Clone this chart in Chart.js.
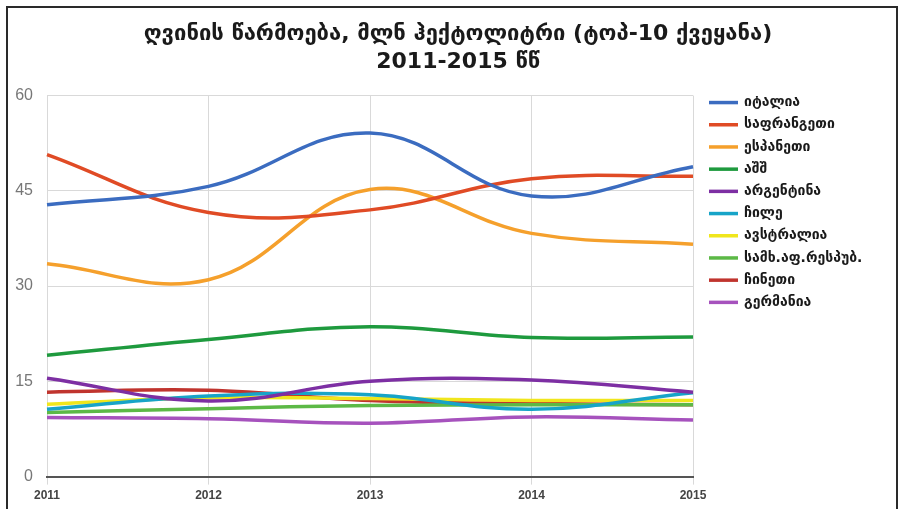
<!DOCTYPE html>
<html>
<head>
<meta charset="utf-8">
<script src="https://cdn.jsdelivr.net/npm/chart.js@4.4.1/dist/chart.umd.min.js"></script>
<style>
  html, body { margin: 0; padding: 0; background: #fff; overflow: hidden; }
  #frame {
    position: absolute; left: 6px; top: 6px; width: 892px; height: 540px;
    border: 2px solid #2a2a2a; box-sizing: border-box;
  }
  #wrap { position: absolute; left: 0; top: 0; width: 903px; height: 509px; }
</style>
</head>
<body>
<div id="frame"></div>
<div id="wrap"><canvas id="myChart" width="903" height="509"></canvas></div>
<script>
const years = ['2011', '2012', '2013', '2014', '2015'];
const countries = ['იტალია', 'საფრანგეთი', 'ესპანეთი', 'აშშ', 'არგენტინა', 'ჩილე', 'ავსტრალია', 'სამხ.აფ.რესპუბ.', 'ჩინეთი', 'გერმანია'];
const colors = ['#3b6cc0', '#e04b25', '#f5a02c', '#1e9a3e', '#7d2fa3', '#17a4c8', '#f0e61c', '#5cb946', '#c0342e', '#a652bd'];

const italy = [42.8, 45.7, 54.1, 44.2, 48.8];
const france = [50.7, 41.6, 42.0, 46.9, 47.3];
const spain = [33.5, 31.0, 45.2, 38.3, 36.6];
const usa = [19.1, 21.6, 23.6, 21.9, 22.0];
const argentina = [15.5, 11.9, 15.0, 15.2, 13.3];
const chile = [10.6, 12.7, 12.9, 10.6, 13.2];
const australia = [11.4, 12.4, 12.3, 12.0, 12.0];
const southAfrica = [10.1, 10.7, 11.2, 11.3, 11.3];
const china = [13.3, 13.6, 12.0, 11.5, 11.3];
const germany = [9.3, 9.1, 8.4, 9.4, 8.9];

const yTicks = [0, 15, 30, 45, 60];
const titleLines = ['ღვინის წარმოება, მლნ ჰექტოლიტრი (ტოპ-10 ქვეყანა)', '2011-2015 წწ'];

const series = [italy, france, spain, usa, argentina, chile, australia, southAfrica, china, germany];

// legend to the right of the plot, lines + bold labels
const sideLegend = {
  id: 'sideLegend',
  afterDraw(chart) {
    const c = chart.ctx;
    const area = chart.chartArea;
    const x = area.right + 16;
    let y = area.top + 7;
    c.save();
    c.font = 'bold 14px "DejaVu Sans"';
    c.textBaseline = 'middle';
    chart.data.datasets.forEach(ds => {
      c.strokeStyle = ds.borderColor;
      c.lineWidth = 3.5;
      c.beginPath();
      c.moveTo(x, y);
      c.lineTo(x + 29, y);
      c.stroke();
      c.fillStyle = '#1a1a1a';
      c.fillText(ds.label, x + 35, y);
      y += 22.2;
    });
    c.restore();
  }
};

const ctx = document.getElementById('myChart').getContext('2d');
new Chart(ctx, {
  type: 'line',
  data: {
    labels: years,
    datasets: series.map((values, i) => ({
      label: countries[i],
      data: values,
      borderColor: colors[i],
      backgroundColor: colors[i],
      borderWidth: 3.5,
      pointRadius: 0,
      fill: false,
      tension: 0.4
    }))
  },
  options: {
    responsive: false,
    animation: false,
    layout: { padding: { left: 13, right: 0, top: 12, bottom: 2 } },
    plugins: {
      title: {
        display: true,
        text: titleLines,
        color: '#1a1a1a',
        font: { family: 'DejaVu Sans', size: 22, weight: 'bold', lineHeight: 1.24 },
        padding: { top: 9, bottom: 20 }
      },
      legend: { display: false },
      tooltip: { enabled: false }
    },
    scales: {
      x: {
        grid: { color: '#d9d9d9', lineWidth: 1 },
        border: { color: '#555', width: 2 },
        ticks: {
          color: '#444',
          font: { family: 'Liberation Sans', size: 12, weight: 'bold' },
          maxRotation: 0,
          padding: 4
        }
      },
      y: {
        min: 0,
        max: 60,
        afterBuildTicks: axis => { axis.ticks = yTicks.map(v => ({ value: v })); },
        afterFit: axis => { axis.width = 34; },
        grid: { color: '#d9d9d9', lineWidth: 1, drawTicks: false },
        border: { display: false },
        ticks: {
          color: '#777',
          font: { family: 'Liberation Sans', size: 16 },
          padding: 14
        }
      },
      // empty right-hand axis only reserves room for the legend
      side: {
        position: 'right',
        min: 0,
        max: 60,
        grid: { display: false },
        border: { display: false },
        ticks: { display: false },
        afterFit: axis => { axis.width = 210; }
      }
    }
  },
  plugins: [sideLegend]
});
</script>
</body>
</html>
